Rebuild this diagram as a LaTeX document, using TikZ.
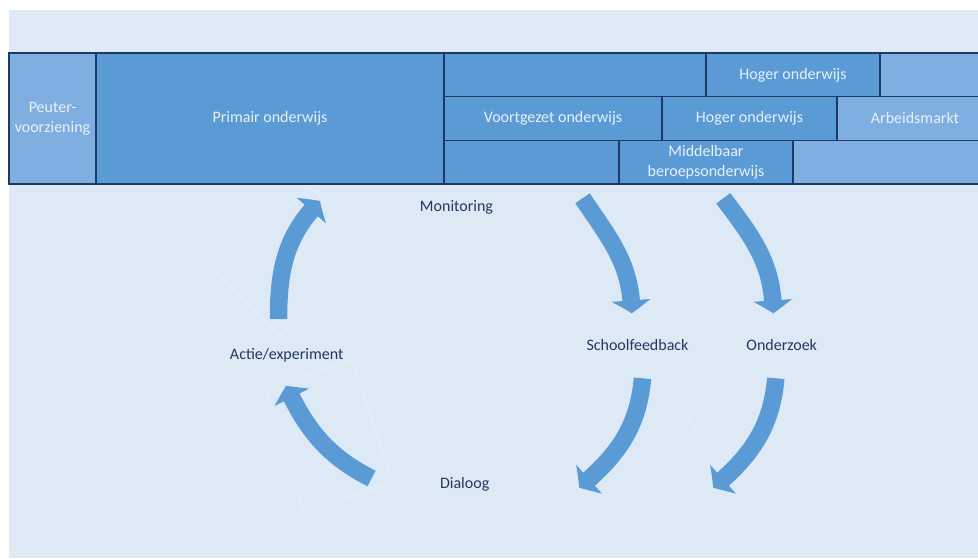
\documentclass[tikz,border=0pt]{standalone}
\usepackage{fontspec}
\setmainfont{Carlito}
\usetikzlibrary{arrows.meta,bending}
\definecolor{bgblue}{RGB}{221,234,246}
\definecolor{midblue}{RGB}{91,155,213}
\definecolor{lightblue}{RGB}{127,174,224}
\definecolor{navy}{RGB}{31,56,100}
\definecolor{boxtext}{RGB}{232,240,250}
\definecolor{labeltext}{RGB}{36,56,92}

\begin{document}
\begin{tikzpicture}[
  x=1pt, y=1pt,
  box/.style      = {draw=navy, line width=1.4pt, fill=midblue, text=boxtext,
                     font=\fontsize{16}{19.5}\selectfont, align=center,
                     inner sep=0pt, outer sep=0pt, anchor=north west,
                     minimum height=43.67pt},
  lightbox/.style = {box, fill=lightblue},
  lbl/.style      = {text=labeltext, font=\fontsize{16}{19.5}\selectfont,
                     anchor=base, inner sep=0pt},
  arr/.style      = {midblue, line width=17.5pt,
                     -{Triangle[width=38pt,length=13pt,bend]}},
  faint/.style    = {white, opacity=0.35, line width=0.5pt},
]
\useasboundingbox (0,0) rectangle (978,558);
\clip (0,0) rectangle (978,558);
\fill[bgblue] (9,0) rectangle (978,548);
% school levels
\node[lightbox, minimum width=87pt, minimum height=131pt] (peuter) at (9,505) {Peuter-\\voorziening};
\node[box, minimum width=348pt, minimum height=131pt] (primair) at (96,505) {Primair onderwijs};
% row 1
\node[box, minimum width=262pt] (r1a) at (444,505) {};
\node[box, minimum width=174pt] (hoger1) at (706,505) {Hoger onderwijs};
\node[lightbox, minimum width=120pt] (r1c) at (880,505) {};
% row 2
\node[box, minimum width=218pt] (vo) at (444,461.33) {Voortgezet onderwijs};
\node[box, minimum width=175pt] (hoger2) at (662,461.33) {Hoger onderwijs};
\node[lightbox, minimum width=156pt] (arbeid) at (837,461.33) {Arbeidsmarkt};
% row 3
\node[box, minimum width=175pt] (r3a) at (444,417.67) {};
\node[box, minimum width=174pt] (mbo) at (619,417.67) {Middelbaar\\beroepsonderwijs};
\node[lightbox, minimum width=200pt] (r3c) at (793,417.67) {};
% cycle labels
\node[lbl] (mon) at (456.5,346) {Monitoring};
\node[lbl] (actie) at (286.7,198.7) {Actie/experiment};
\node[lbl] (dialoog) at (464.7,69.7) {Dialoog};
\node[lbl] (feedback) at (637.5,208) {Schoolfeedback};
\node[lbl] (onderzoek) at (781.7,208) {Onderzoek};
% faint shape frames
\draw[faint] (310,371) -- (373,308) -- (280,222) -- (217,285) -- cycle;
\draw[faint] (265,170) -- (353,198) -- (392,75) -- (304,47) -- cycle;
\draw[faint] (540,130) -- (642,200) -- (697,125) -- (595,55) -- cycle;
\draw[faint] (683,148) -- (773,200) -- (828,125) -- (738,73) -- cycle;
% arrow ends
\coordinate (am-s) at (278.5,239);
\coordinate (am-e) at (320,357);
\coordinate (da-s) at (371.5,79.5);
\coordinate (da-e) at (286,172.3);
\coordinate (ms-s) at (582.5,359.7);
\coordinate (ms-e) at (631.7,244.7);
\coordinate (mo-s) at (723.3,359.7);
\coordinate (mo-e) at (773.3,244.7);
\coordinate (sd-s) at (642.5,179.7);
\coordinate (sd-e) at (579.3,70.3);
\coordinate (od-s) at (775.8,179.7);
\coordinate (od-e) at (713.3,70.3);
% arrows
\draw[arr] (am-s) to[out=90,in=225] (am-e);
\draw[arr] (da-s) to[out=153,in=295] (da-e);
\draw[arr] (ms-s) to[out=-56,in=90] (ms-e);
\draw[arr] (mo-s) to[out=-53,in=90] (mo-e);
\draw[arr] (sd-s) to[out=-95,in=40] (sd-e);
\draw[arr] (od-s) to[out=-95,in=40] (od-e);
\end{tikzpicture}
\end{document}
